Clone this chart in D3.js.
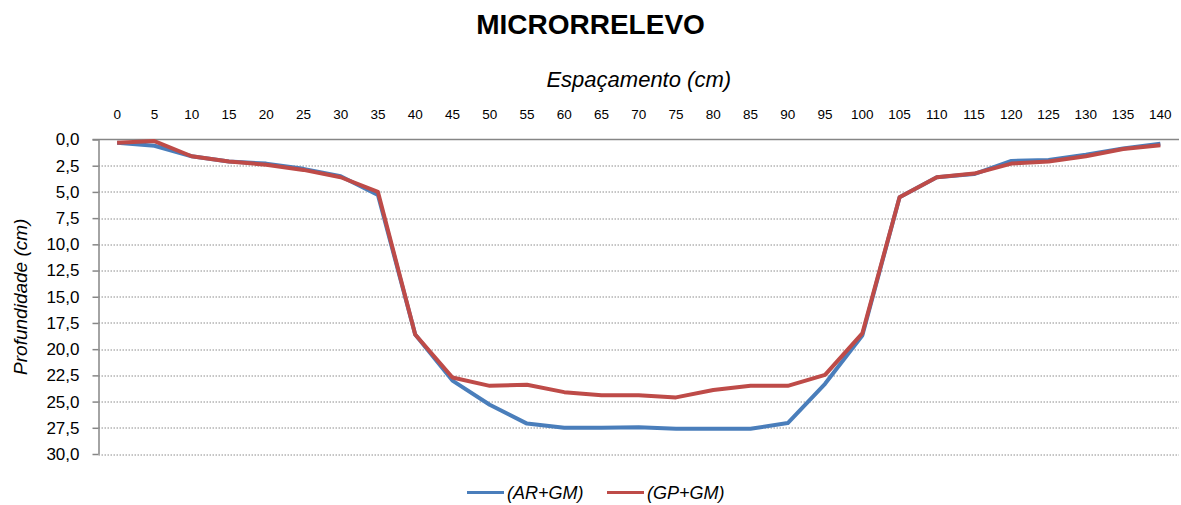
<!DOCTYPE html>
<html>
<head>
<meta charset="utf-8">
<script src="https://cdn.jsdelivr.net/npm/d3@7"></script>
<style>
  body { margin: 0; background: #fff; }
  svg { font-family: "Liberation Sans", Arial, sans-serif; }
  .grid line { stroke: #8c8c8c; stroke-dasharray: 1.5 1.5; }
</style>
</head>
<body>
<div id="chart"></div>
<script>
var width = 1181, height = 505;

// espaçamento (cm)
var espacamento = [0, 5, 10, 15, 20, 25, 30, 35, 40, 45, 50, 55, 60, 65, 70,
                   75, 80, 85, 90, 95, 100, 105, 110, 115, 120, 125, 130, 135, 140];

// profundidade (cm)
var arGm = [0.3, 0.6, 1.6, 2.1, 2.3, 2.8, 3.5, 5.3, 18.6, 23.0, 25.3, 27.1, 27.5, 27.5, 27.45,
            27.6, 27.6, 27.6, 27.05, 23.3, 18.7, 5.5, 3.6, 3.3, 2.05, 1.95, 1.45, 0.85, 0.4];
var gpGm = [0.3, 0.15, 1.6, 2.1, 2.4, 2.9, 3.6, 5.0, 18.6, 22.7, 23.5, 23.4, 24.1, 24.4, 24.4,
            24.6, 23.9, 23.5, 23.5, 22.45, 18.5, 5.5, 3.6, 3.25, 2.3, 2.1, 1.6, 0.9, 0.55];

var yTicks = d3.range(0, 30.01, 2.5);
var seriesNames = ["(AR+GM)", "(GP+GM)"];
var colors = ["#4a7ebb", "#be4b48"];

var margin = {top: 139.5, right: 2, bottom: 51, left: 98.5};
var w = width - margin.left - margin.right;
var h = height - margin.top - margin.bottom;

var svg = d3.select("#chart").append("svg")
    .attr("width", width)
    .attr("height", height);

// title
svg.append("text")
    .attr("x", width / 2)
    .attr("y", 34)
    .attr("text-anchor", "middle")
    .style("font-size", "28px")
    .style("font-weight", "bold")
    .text("MICRORRELEVO");

var g = svg.append("g")
    .attr("transform", "translate(" + margin.left + "," + margin.top + ")");

var xScale = d3.scaleBand()
    .domain(espacamento)
    .range([0, w]);

var yScale = d3.scaleLinear()
    .domain([0, 30])
    .range([0, h]);

var fmt = function(d) { return d3.format(".1f")(d).replace(".", ","); };

// gridlines
g.append("g")
    .attr("class", "grid")
    .selectAll("line")
    .data(yTicks.slice(1))
    .enter().append("line")
    .attr("x1", 0)
    .attr("x2", w)
    .attr("y1", function(d) { return Math.round(yScale(d)) + 0.5; })
    .attr("y2", function(d) { return Math.round(yScale(d)) + 0.5; });

// x axis (top)
var xAxis = g.append("g")
    .call(d3.axisTop(xScale).tickSize(0).tickPadding(21));
xAxis.select(".domain").attr("stroke", "#868686").attr("stroke-width", 1.5).attr("d", "M-6,0H" + w);
xAxis.selectAll("text").style("font-size", "13.5px").attr("fill", "#000");

// y axis
var yAxis = g.append("g")
    .call(d3.axisLeft(yScale).tickValues(yTicks).tickFormat(fmt).tickSize(6).tickSizeOuter(0).tickPadding(13));
yAxis.select(".domain").attr("stroke", "#868686").attr("stroke-width", 1.5);
yAxis.selectAll(".tick line").attr("stroke", "#868686").attr("stroke-width", 1.5);
yAxis.selectAll("text").style("font-size", "17px").attr("fill", "#000");

// axis titles
svg.append("text")
    .attr("x", margin.left + w / 2)
    .attr("y", 87)
    .attr("text-anchor", "middle")
    .style("font-size", "22px")
    .style("font-style", "italic")
    .text("Espaçamento (cm)");

svg.append("text")
    .attr("transform", "rotate(-90)")
    .attr("x", -(margin.top + h / 2))
    .attr("y", 27)
    .attr("text-anchor", "middle")
    .style("font-size", "19px")
    .style("font-style", "italic")
    .text("Profundidade (cm)");

// lines
var line = d3.line()
    .x(function(d, i) { return xScale(espacamento[i]) + xScale.bandwidth() / 2; })
    .y(function(d) { return yScale(d); });

[arGm, gpGm].forEach(function(s, i) {
    g.append("path")
        .datum(s)
        .attr("fill", "none")
        .attr("stroke", colors[i])
        .attr("stroke-width", 4)
        .attr("stroke-linejoin", "round")
        .attr("d", line);
});

// legend
var legendX = [467, 607];
var legend = svg.append("g");
seriesNames.forEach(function(name, i) {
    legend.append("line")
        .attr("x1", legendX[i])
        .attr("x2", legendX[i] + 37)
        .attr("y1", 492.5)
        .attr("y2", 492.5)
        .attr("stroke", colors[i])
        .attr("stroke-width", 3);
    legend.append("text")
        .attr("x", legendX[i] + 40)
        .attr("y", 499)
        .style("font-size", "18px")
        .style("font-style", "italic")
        .text(name);
});
</script>
</body>
</html>
